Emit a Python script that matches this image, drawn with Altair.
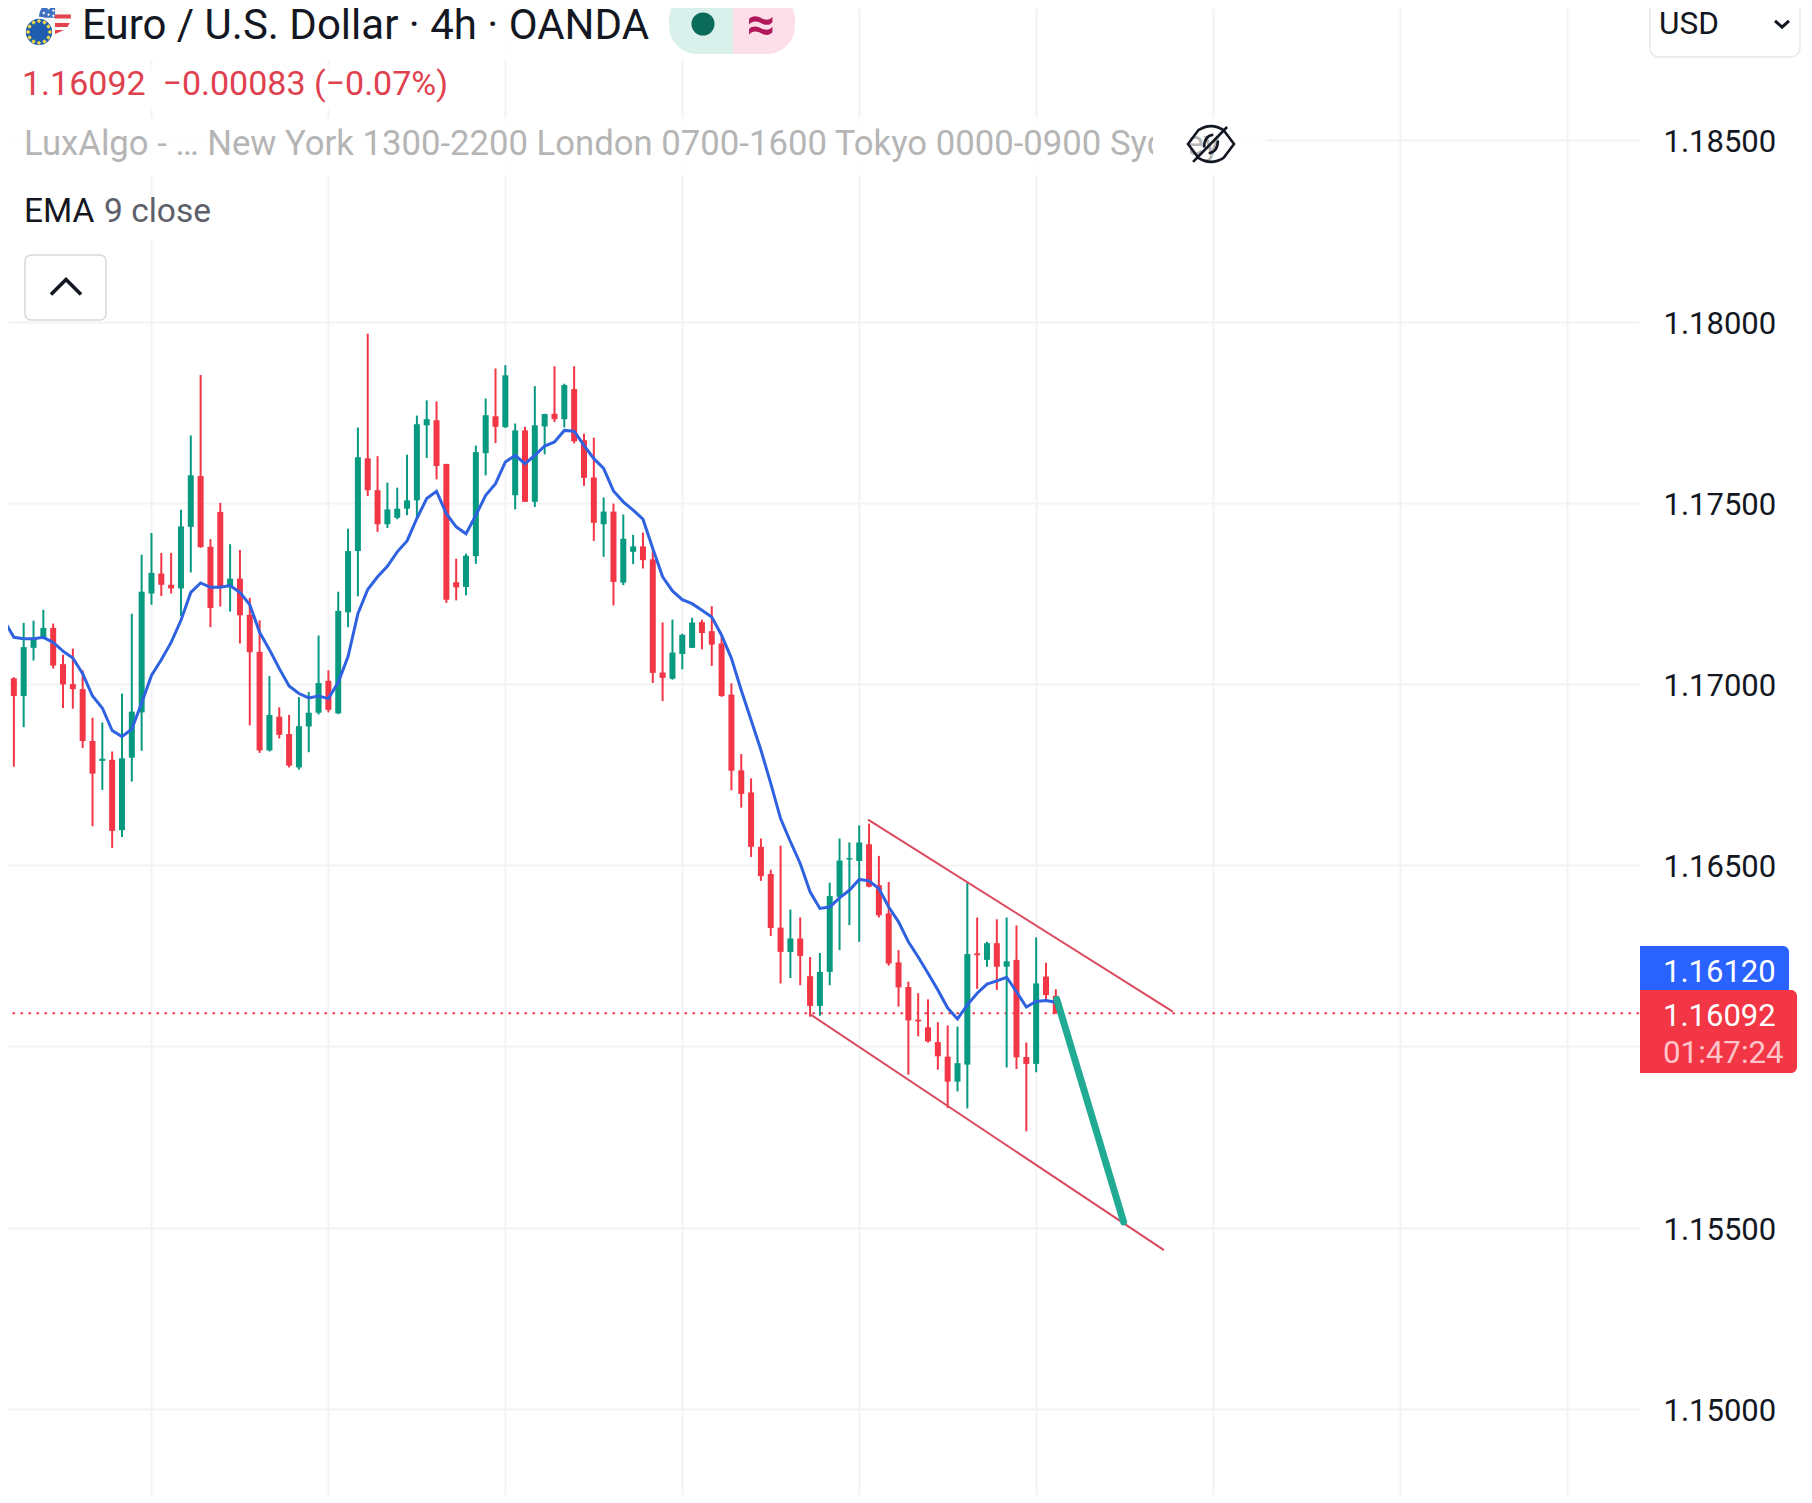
import math
import altair as alt
import pandas as pd

# data
candle_index = list(range(1, 109))
opens = [
    1.17124, 1.17016, 1.16967, 1.17100, 1.17127, 1.17155, 1.17055, 1.17000, 1.16986, 1.16843, 1.16788, 1.16791,
    1.16597, 1.16797, 1.16922, 1.17250, 1.17305, 1.17274, 1.17264, 1.17434, 1.17574, 1.17379, 1.17475, 1.17267,
    1.17291, 1.17191, 1.17089, 1.16817, 1.16910, 1.16862, 1.16770, 1.16883, 1.16921, 1.17009, 1.16919, 1.17198,
    1.17367, 1.17623, 1.17535, 1.17441, 1.17459, 1.17484, 1.17507, 1.17714, 1.17728, 1.17607, 1.17281, 1.17268,
    1.17353, 1.17637, 1.17739, 1.17709, 1.17521, 1.17700, 1.17503, 1.17711, 1.17746, 1.17731, 1.17814, 1.17673,
    1.17570, 1.17441, 1.17476, 1.17280, 1.17365, 1.17380, 1.17344, 1.17032, 1.17015, 1.17083, 1.17100, 1.17171,
    1.17146, 1.17112, 1.16971, 1.16762, 1.16701, 1.16551, 1.16476, 1.16328, 1.16261, 1.16298, 1.16194, 1.16112,
    1.16206, 1.16413, 1.16516, 1.16512, 1.16558, 1.16445, 1.16367, 1.16232, 1.16164, 1.16074, 1.16053, 1.16012,
    1.15972, 1.15903, 1.15950, 1.16257, 1.16239, 1.16285, 1.16220, 1.16239, 1.15971, 1.15952, 1.16193, 1.16140,
]
highs = [
    1.17134, 1.17019, 1.17169, 1.17175, 1.17205, 1.17167, 1.17081, 1.17098, 1.17038, 1.16907, 1.16894, 1.16814,
    1.16974, 1.17194, 1.17357, 1.17417, 1.17362, 1.17362, 1.17481, 1.17686, 1.17853, 1.17400, 1.17500, 1.17386,
    1.17370, 1.17238, 1.17176, 1.17022, 1.16936, 1.16915, 1.16964, 1.16978, 1.17134, 1.17038, 1.17255, 1.17429,
    1.17708, 1.17967, 1.17629, 1.17556, 1.17542, 1.17633, 1.17741, 1.17783, 1.17780, 1.17608, 1.17346, 1.17360,
    1.17658, 1.17788, 1.17871, 1.17880, 1.17719, 1.17710, 1.17822, 1.17746, 1.17877, 1.17829, 1.17877, 1.17691,
    1.17680, 1.17515, 1.17498, 1.17468, 1.17412, 1.17418, 1.17369, 1.17170, 1.17178, 1.17139, 1.17183, 1.17178,
    1.17215, 1.17135, 1.17002, 1.16807, 1.16740, 1.16574, 1.16488, 1.16554, 1.16378, 1.16356, 1.16247, 1.16258,
    1.16452, 1.16574, 1.16563, 1.16610, 1.16615, 1.16526, 1.16454, 1.16266, 1.16179, 1.16147, 1.16130, 1.16067,
    1.16058, 1.16055, 1.16451, 1.16356, 1.16289, 1.16351, 1.16356, 1.16334, 1.16011, 1.16301, 1.16231, 1.16158,
]
lows = [
    1.16857, 1.16772, 1.16881, 1.17065, 1.17124, 1.17043, 1.16934, 1.16932, 1.16824, 1.16608, 1.16708, 1.16548,
    1.16578, 1.16731, 1.16816, 1.17219, 1.17243, 1.17250, 1.17188, 1.17308, 1.17376, 1.17157, 1.17214, 1.17200,
    1.17112, 1.16886, 1.16810, 1.16814, 1.16850, 1.16770, 1.16764, 1.16812, 1.16916, 1.16922, 1.16917, 1.17157,
    1.17242, 1.17519, 1.17420, 1.17431, 1.17455, 1.17466, 1.17452, 1.17624, 1.17565, 1.17224, 1.17231, 1.17245,
    1.17332, 1.17576, 1.17665, 1.17707, 1.17482, 1.17503, 1.17489, 1.17634, 1.17723, 1.17708, 1.17664, 1.17547,
    1.17395, 1.17351, 1.17217, 1.17273, 1.17331, 1.17319, 1.17003, 1.16953, 1.17012, 1.17041, 1.17100, 1.17096,
    1.17050, 1.16965, 1.16707, 1.16659, 1.16523, 1.16457, 1.16305, 1.16174, 1.16189, 1.16169, 1.16082, 1.16085,
    1.16169, 1.16266, 1.16335, 1.16289, 1.16439, 1.16356, 1.16223, 1.16110, 1.15922, 1.16028, 1.16011, 1.15936,
    1.15830, 1.15876, 1.15829, 1.16159, 1.16220, 1.16156, 1.15942, 1.15938, 1.15766, 1.15929, 1.16126, 1.16091,
]
closes = [
    1.17019, 1.16967, 1.17102, 1.17124, 1.17155, 1.17051, 1.16999, 1.16986, 1.16843, 1.16753, 1.16794, 1.16595,
    1.16795, 1.16924, 1.17255, 1.17307, 1.17274, 1.17264, 1.17435, 1.17576, 1.17378, 1.17210, 1.17267, 1.17291,
    1.17190, 1.17088, 1.16817, 1.16915, 1.16860, 1.16775, 1.16884, 1.16921, 1.17003, 1.16929, 1.17202, 1.17367,
    1.17626, 1.17535, 1.17441, 1.17482, 1.17484, 1.17507, 1.17717, 1.17731, 1.17602, 1.17233, 1.17267, 1.17354,
    1.17640, 1.17742, 1.17710, 1.17852, 1.17700, 1.17503, 1.17714, 1.17745, 1.17731, 1.17825, 1.17670, 1.17569,
    1.17445, 1.17476, 1.17282, 1.17401, 1.17380, 1.17342, 1.17031, 1.17017, 1.17087, 1.17136, 1.17170, 1.17141,
    1.17109, 1.16967, 1.16761, 1.16697, 1.16551, 1.16470, 1.16327, 1.16261, 1.16298, 1.16250, 1.16112, 1.16206,
    1.16415, 1.16513, 1.16520, 1.16563, 1.16441, 1.16362, 1.16229, 1.16163, 1.16072, 1.16069, 1.16014, 1.15973,
    1.15903, 1.15954, 1.16255, 1.16252, 1.16285, 1.16220, 1.16235, 1.15970, 1.15952, 1.16174, 1.16142, 1.16091,
]
# EMA starts one bar earlier, off the left edge
ema_index = list(range(0, 109))
ema = [
    1.17200, 1.17176, 1.17129, 1.17125, 1.17125, 1.17129, 1.17115, 1.17091, 1.17072, 1.17029, 1.16967, 1.16934,
    1.16872, 1.16855, 1.16876, 1.16948, 1.17024, 1.17067, 1.17115, 1.17176, 1.17253, 1.17279, 1.17267, 1.17267,
    1.17272, 1.17253, 1.17219, 1.17143, 1.17095, 1.17043, 1.16995, 1.16974, 1.16962, 1.16967, 1.16960, 1.17005,
    1.17076, 1.17194, 1.17261, 1.17296, 1.17325, 1.17365, 1.17395, 1.17457, 1.17512, 1.17532, 1.17470, 1.17434,
    1.17415, 1.17466, 1.17521, 1.17553, 1.17613, 1.17631, 1.17608, 1.17631, 1.17657, 1.17668, 1.17700, 1.17698,
    1.17659, 1.17622, 1.17595, 1.17533, 1.17503, 1.17480, 1.17455, 1.17374, 1.17296, 1.17257, 1.17233, 1.17222,
    1.17204, 1.17185, 1.17135, 1.17071, 1.16983, 1.16901, 1.16818, 1.16726, 1.16629, 1.16565, 1.16505, 1.16427,
    1.16381, 1.16385, 1.16410, 1.16431, 1.16461, 1.16457, 1.16436, 1.16385, 1.16344, 1.16289, 1.16247, 1.16202,
    1.16156, 1.16106, 1.16076, 1.16115, 1.16147, 1.16172, 1.16181, 1.16191, 1.16151, 1.16109, 1.16124, 1.16127,
    1.16122,
]
channel_top_x = [88.9, 119.9]
channel_top_y = [1.16626, 1.16096]
channel_low_x = [82.9, 119.0]
channel_low_y = [1.16091, 1.15438]
target_x = [108.1, 114.9]
target_y = [1.16130, 1.15516]

price_ticks = [1.15, 1.155, 1.16, 1.165, 1.17, 1.175, 1.18, 1.185]
time_grid = [16, 34, 52, 70, 88, 106, 124, 143, 160]
last_price = 1.16092

UP = '#089981'
DOWN = '#F23645'
GRID = '#F3F3F5'
INK = '#131722'
FONT = 'Roboto'

df = pd.DataFrame({'i': candle_index, 'open': opens, 'high': highs, 'low': lows, 'close': closes})
df['dir'] = ['up' if c >= o else 'down' for o, c in zip(opens, closes)]

# padding=0: bars on a continuous x would otherwise pad the domain by 5px a side
x_scale = alt.Scale(domain=[1.404, 167.33], nice=False, zero=False, padding=0)
y_scale = alt.Scale(domain=[1.147624, 1.188656], nice=False, zero=False)
color = alt.Color('dir:N', scale=alt.Scale(domain=['up', 'down'], range=[UP, DOWN]), legend=None)
one = pd.DataFrame({'a': [1]})

x_axis = alt.Axis(values=time_grid, labels=False, ticks=False, domain=False,
                  grid=True, gridColor=GRID, gridWidth=2)
y_axis = alt.Axis(values=price_ticks, orient='right', format='.5f', ticks=False, domain=False,
                  grid=True, gridColor=GRID, gridWidth=2, labelFont=FONT, labelFontSize=31,
                  labelColor=INK, labelPadding=24, labelAlign='left', labelBaseline='middle', labelOffset=2.5)


# every layer carries the same axis or vega-lite drops the shared one
def xq(field):
    return alt.X(f'{field}:Q', scale=x_scale, title=None, axis=x_axis)


def yq(field):
    return alt.Y(f'{field}:Q', scale=y_scale, title=None, axis=y_axis)


# page pixels to plot pixels (page has an 8px margin)
def px(v):
    return alt.value(v - 8)


def label(text, x, y, size, col=INK, align='left', baseline='alphabetic', weight='normal'):
    return alt.Chart(one).mark_text(text=text, font=FONT, fontSize=size, color=col, align=align,
                                    baseline=baseline, fontWeight=weight).encode(x=px(x), y=px(y))


def box(x0, x1, y0, y1, fill, opacity=1.0, **kw):
    return alt.Chart(one).mark_rect(fill=fill, opacity=opacity, **kw).encode(
        x=px(x0), x2=px(x1), y=px(y0), y2=px(y1))


def icon(path, x, y, half, stroke=None, fill=None, width=2):
    opts = {'shape': path, 'size': (2 * half) ** 2, 'opacity': 1}
    if fill:
        opts.update(filled=True, fill=fill, strokeWidth=0)
    else:
        opts.update(filled=False, stroke=stroke, strokeWidth=width)
    return alt.Chart(one).mark_point(**opts).encode(x=px(x), y=px(y))


def path_line(xs, ys, col, width, cap='butt'):
    return alt.Chart(pd.DataFrame({'i': xs, 'p': ys})).mark_line(
        color=col, strokeWidth=width, strokeCap=cap, clip=True).encode(x=xq('i'), y=yq('p'))


def diamonds(points, r):
    out = ''
    for cx, cy in points:
        out += f'M{cx - r:.3f} {cy:.3f}L{cx:.3f} {cy - r:.3f}L{cx + r:.3f} {cy:.3f}L{cx:.3f} {cy + r:.3f}Z'
    return out


# candles
wicks = alt.Chart(df).mark_rule(strokeWidth=2, clip=True).encode(
    x=xq('i'), y=yq('low'), y2='high:Q', color=color)
bodies = alt.Chart(df).mark_bar(size=6, orient='vertical', clip=True).encode(
    x=xq('i'), y=yq('open'), y2='close:Q', color=color)

# header backgrounds wash out the grid under the text
washes = [
    box(0, 810, 0, 60, 'white', 0.8),
    box(0, 470, 65, 110, 'white', 0.8),
    box(0, 1266, 118, 176, 'white', 0.8),
    box(0, 225, 195, 240, 'white', 0.8),
]

last_line = alt.Chart(pd.DataFrame({'p': [last_price]})).mark_rule(
    color=DOWN, strokeWidth=2, strokeDash=[2.5, 5.5]).encode(y=yq('p'))

ema_line = path_line(ema_index, ema, '#2F62E0', 3)
channel_top = path_line(channel_top_x, channel_top_y, '#DB4A5C', 2)
channel_low = path_line(channel_low_x, channel_low_y, '#DB4A5C', 2)
target = path_line(target_x, target_y, '#22AB94', 7, 'round')

# flag icon
eu_stars = [(0.68 * math.cos(k * math.pi / 6), 0.68 * math.sin(k * math.pi / 6)) for k in range(12)]
stripes = ''
for s in [-0.85, -0.15, 0.38, 0.82]:
    w0 = math.sqrt(max(1 - s * s, 0))
    w1 = math.sqrt(max(1 - (s + .25) ** 2, 0))
    stripes += f'M0 {s}L{w0:.3f} {s}L{w1:.3f} {s + .25}L0 {s + .25}Z'
canton_stars = [(-.7, -.25), (-.4, -.55), (-.4, -.15), (-.1, -.8), (-.1, -.4), (-.1, -.08)]
CIRCLE = 'circle'
flag = [
    alt.Chart(one).mark_point(shape=CIRCLE, filled=True, fill='#F7F7F7', size=804, opacity=1).encode(x=px(55), y=px(17)),
    icon(stripes, 55, 17, 16, fill='#E4414F'),
    icon('M-1 .05L-1 0A1 1 0 0 1 0 -1L0 .05Z', 55, 17, 16, fill='#3E6FC0'),
    icon(diamonds(canton_stars, .09), 55, 17, 16, fill='white'),
    alt.Chart(one).mark_point(shape=CIRCLE, filled=True, fill='#1D5CAF', stroke='white', strokeWidth=2,
                              size=804, opacity=1).encode(x=px(39), y=px(32)),
    icon(diamonds(eu_stars, .14), 39, 32, 16, fill='#F2D54B'),
]

# status pills
pills = [
    box(669, 733, -8, 54, '#D9F0EB', cornerRadiusTopLeft=28, cornerRadiusBottomLeft=28),
    box(733, 795, -8, 54, '#FCDFE9', cornerRadiusTopRight=28, cornerRadiusBottomRight=28),
    alt.Chart(one).mark_point(shape=CIRCLE, filled=True, fill='#0A6B5B', size=531, opacity=1).encode(x=px(703), y=px(24)),
    label('≈', 761, 26, 50, '#B0185B', align='center', baseline='middle', weight='bold'),
]

header = [
    label('Euro / U.S. Dollar · 4h · OANDA', 82, 39, 42),
    label('1.16092\u00a0\u00a0−0.00083 (−0.07%)', 22, 95, 34, '#E0414F'),
    label('LuxAlgo - … New York 1300-2200 London 0700-1600 Tokyo 0000-0900 Sydney', 24, 155, 34.7, '#B5B5B5'),
    box(1153, 1190, 118, 176, 'white'),
    label('EMA', 24, 222, 33.5),
    label('9 close', 104, 222, 33.5, '#5D606B'),
]

EYE = ('M-1 0L-.55 -.6Q0 -.95 .55 -.6L1 0L.55 .6Q0 .95 -.55 .6Z'
       'M-.3 .15Q-.3 -.35 .1 -.4M.3 -.15Q.3 .35 -.1 .4M.7 -.74L-.78 .78')
controls = [
    icon(EYE, 1211, 144, 23, stroke='#131722', width=2.6),
    box(25, 106, 255, 320, 'white', stroke='#D6D8DD', strokeWidth=1.5, cornerRadius=6),
    icon('M-1 .5L0 -.5L1 .5', 66, 287, 15, stroke='#131722', width=3.6),
    box(1650, 1800, -8, 57, 'white', stroke='#E8E8EA', strokeWidth=1.5, cornerRadius=9),
    label('USD', 1659, 34, 31.5),
    icon('M-1 -.45L0 .45L1 -.45', 1782, 24, 7, stroke='#131722', width=3),
]

# price tags on the scale
tags = [
    box(1640, 1789, 946, 995, '#2962FF', cornerRadiusTopRight=6),
    label('1.16120', 1663, 982, 31, 'white'),
    box(1640, 1797, 990, 1073, DOWN, cornerRadiusTopRight=6, cornerRadiusBottomRight=6),
    label('1.16092', 1663, 1026, 31, 'white'),
    label('01:47:24', 1663, 1063, 31.3, '#FFC4CA'),
]

layers = washes + [last_line, wicks, bodies, ema_line, channel_top, channel_low, target]
layers += flag + pills + header + controls + tags

# total height stays under the window or the page scrolls and the shot is squeezed
chart = alt.layer(*layers).resolve_scale(x='shared', y='shared').properties(
    width=1631,
    height=1487,
    padding={'left': 0, 'top': 0, 'right': 165, 'bottom': 0},
    autosize=alt.AutoSizeParams(type='none'),
    background='white',
).configure_view(stroke=None)

chart.save('out.html', embed_options={'renderer': 'svg', 'actions': False})
